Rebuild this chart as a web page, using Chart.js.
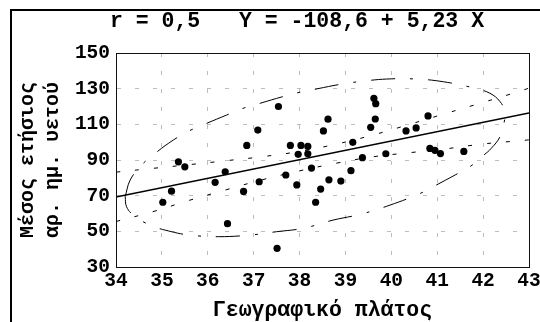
<!DOCTYPE html>
<html>
<head>
<meta charset="utf-8">
<script src="https://cdn.jsdelivr.net/npm/chart.js@4.4.1/dist/chart.umd.min.js"></script>
<style>
  html, body { margin: 0; padding: 0; background: #fff; }
  #wrap { position: relative; width: 540px; height: 322px; }
</style>
</head>
<body>
<div id="wrap"><canvas id="myChart"></canvas></div>
<script>
// latitude (x) and mean yearly rain days (y) of the stations
var latitude = [35.02, 35.21, 35.36, 35.50, 36.16, 36.38, 36.43, 36.78, 36.85, 37.09,
                37.12, 37.51, 37.54, 37.70, 37.80, 37.94, 37.97, 38.03, 38.18, 38.18,
                38.26, 38.35, 38.46, 38.52, 38.62, 38.64, 38.90, 39.12, 39.16, 39.37,
                39.55, 39.62, 39.66, 39.65, 39.88, 40.32, 40.54, 40.80, 40.84, 40.95,
                41.07, 41.58];
var rainDays = [66.3, 72.5, 89.0, 86.2, 77.5, 83.4, 54.3, 72.4, 98.2, 106.8,
                77.8, 40.5, 120.0, 81.6, 98.2, 76.0, 93.2, 98.2, 97.6, 93.5,
                85.5, 66.3, 73.7, 106.3, 112.9, 78.9, 78.2, 84.0, 99.9, 91.3,
                108.3, 124.6, 121.6, 113.0, 93.5, 106.3, 108.0, 114.7, 96.5, 95.4,
                93.6, 94.8];

// regression line ends
var fitX = [34, 43];
var fitY = [69.2, 116.3];

// confidence band of the fit
var bandX = [34, 34.8, 35.6, 36.4, 37.2, 38.0, 38.8, 39.6, 40.4, 41.2, 42.0, 42.8, 43];
var upperBand = [83.2, 85.3, 87.4, 89.6, 91.9, 94.8, 98.9, 104.0, 110.0, 116.2, 122.3, 128.6, 130.3];
var lowerBand = [55.5, 61.0, 67.4, 73.3, 79.0, 83.9, 88.2, 91.8, 94.1, 96.3, 99.0, 100.8, 101.3];

// ellipse outline, read clockwise from the left tip
var ellipseX = [34.20, 34.31, 34.56, 34.85, 35.25, 35.60, 35.98, 36.41, 36.77, 37.14,
                37.63, 38.01, 38.40, 38.88, 39.28, 39.90, 40.55, 41.13, 41.78, 42.15,
                42.37, 42.47, 42.45, 42.37, 42.18, 42.00, 41.71, 41.39, 40.91, 40.59,
                39.97, 39.35, 38.73, 38.08, 37.50, 36.92, 36.23, 35.61, 35.21, 34.74,
                34.38, 34.23, 34.20];
var ellipseY = [69.4, 78.8, 87.2, 93.7, 101.2, 106.4, 110.6, 115.2, 119.0, 121.8,
                125.5, 128.0, 130.0, 132.4, 133.9, 135.4, 135.4, 133.9, 130.5, 127.4,
                122.7, 117.1, 110.0, 103.1, 96.6, 92.4, 86.2, 81.6, 75.0, 70.8,
                64.7, 59.7, 56.3, 51.7, 49.8, 47.9, 47.0, 47.9, 49.8, 53.5,
                59.1, 63.8, 69.4];

var xTicks = [34, 35, 36, 37, 38, 39, 40, 41, 42, 43];
var yTicks = [30, 50, 70, 90, 110, 130, 150];

var titleText = 'r = 0,5   Y = -108,6 + 5,23 X';
var xTitle = 'Γεωγραφικό πλάτος';
var yTitle = ['Μέσος ετήσιος', 'αρ. ημ. υετού'];

var mono = "'Liberation Mono', 'DejaVu Sans Mono', monospace";

function toPoints(xs, ys) {
    return xs.map(function (x, i) { return { x: x, y: ys[i] }; });
}

// title text, outer frame and box around the plot
var framePlugin = {
    id: 'frame',
    afterDraw: function (chart) {
        var ctx = chart.ctx;
        var a = chart.chartArea;
        ctx.save();
        ctx.strokeStyle = '#000';
        ctx.lineWidth = 2;
        ctx.beginPath();
        ctx.moveTo(11, 322);
        ctx.lineTo(11, 10);
        ctx.lineTo(540, 10);
        ctx.stroke();

        ctx.lineWidth = 1;
        ctx.strokeStyle = '#111';
        ctx.strokeRect(Math.round(a.left) + 0.5, Math.round(a.top) + 0.5,
                       Math.round(a.right) - Math.round(a.left), Math.round(a.bottom) - Math.round(a.top));

        ctx.fillStyle = '#000';
        ctx.font = 'bold 21.5px ' + mono;
        ctx.textAlign = 'center';
        ctx.textBaseline = 'middle';
        ctx.fillText(titleText, 297, 22);
        ctx.restore();
    }
};

var ctx = document.getElementById('myChart').getContext('2d');
new Chart(ctx, {
    type: 'scatter',
    data: {
        datasets: [
            {
                label: 'Σταθμοί',
                data: toPoints(latitude, rainDays),
                backgroundColor: '#000',
                borderWidth: 0,
                pointRadius: 3.6
            },
            {
                label: 'Ευθεία',
                data: toPoints(fitX, fitY),
                showLine: true,
                borderColor: '#000',
                borderWidth: 1.5,
                pointRadius: 0
            },
            {
                label: 'Άνω όριο',
                data: toPoints(bandX, upperBand),
                showLine: true,
                borderColor: '#000',
                borderWidth: 1,
                borderDash: [4, 15],
                tension: 0.4,
                pointRadius: 0
            },
            {
                label: 'Κάτω όριο',
                data: toPoints(bandX, lowerBand),
                showLine: true,
                borderColor: '#000',
                borderWidth: 1,
                borderDash: [4, 15],
                tension: 0.4,
                pointRadius: 0
            },
            {
                label: 'Έλλειψη',
                data: toPoints(ellipseX, ellipseY),
                showLine: true,
                borderColor: '#000',
                borderWidth: 1,
                borderDash: [24, 15, 3, 15],
                tension: 0.4,
                pointRadius: 0
            }
        ]
    },
    options: {
        responsive: true,
        maintainAspectRatio: false,
        animation: false,
        layout: { padding: { top: 53, right: 11, bottom: 0, left: 0 } },
        plugins: {
            legend: { display: false },
            tooltip: { enabled: false }
        },
        scales: {
            x: {
                type: 'linear',
                min: 34,
                max: 43,
                // the last label may run past the right edge, as in the original
                afterFit: function (scale) {
                    scale.height = 55;
                    scale.paddingRight = 0;
                },
                afterBuildTicks: function (scale) {
                    scale.ticks = xTicks.map(function (v) { return { value: v }; });
                },
                grid: { color: '#bdbdbd', lineWidth: 1, drawTicks: false },
                border: { color: '#000', width: 1, dash: [4, 14] },
                ticks: {
                    padding: 4,
                    color: '#000',
                    maxRotation: 0,
                    font: { family: mono, size: 19.5, weight: 'bold', lineHeight: 1 }
                },
                title: {
                    display: true,
                    text: xTitle,
                    color: '#000',
                    padding: { top: 0, bottom: 1 },
                    font: { family: mono, size: 21.5, weight: 'bold', lineHeight: 1 }
                }
            },
            y: {
                min: 30,
                max: 150,
                afterFit: function (scale) { scale.width = 116; },
                afterBuildTicks: function (scale) {
                    scale.ticks = yTicks.map(function (v) { return { value: v }; });
                },
                grid: { color: '#bdbdbd', lineWidth: 1, drawTicks: false },
                border: { color: '#000', width: 1, dash: [4, 14] },
                ticks: {
                    padding: 6,
                    color: '#000',
                    font: { family: mono, size: 19.5, weight: 'bold', lineHeight: 1 }
                },
                title: {
                    display: true,
                    text: yTitle,
                    color: '#000',
                    padding: { top: 15.5, bottom: 0 },
                    font: { family: mono, size: 20, weight: 'bold', lineHeight: 1.25 }
                }
            }
        }
    },
    plugins: [framePlugin]
});
</script>
</body>
</html>
